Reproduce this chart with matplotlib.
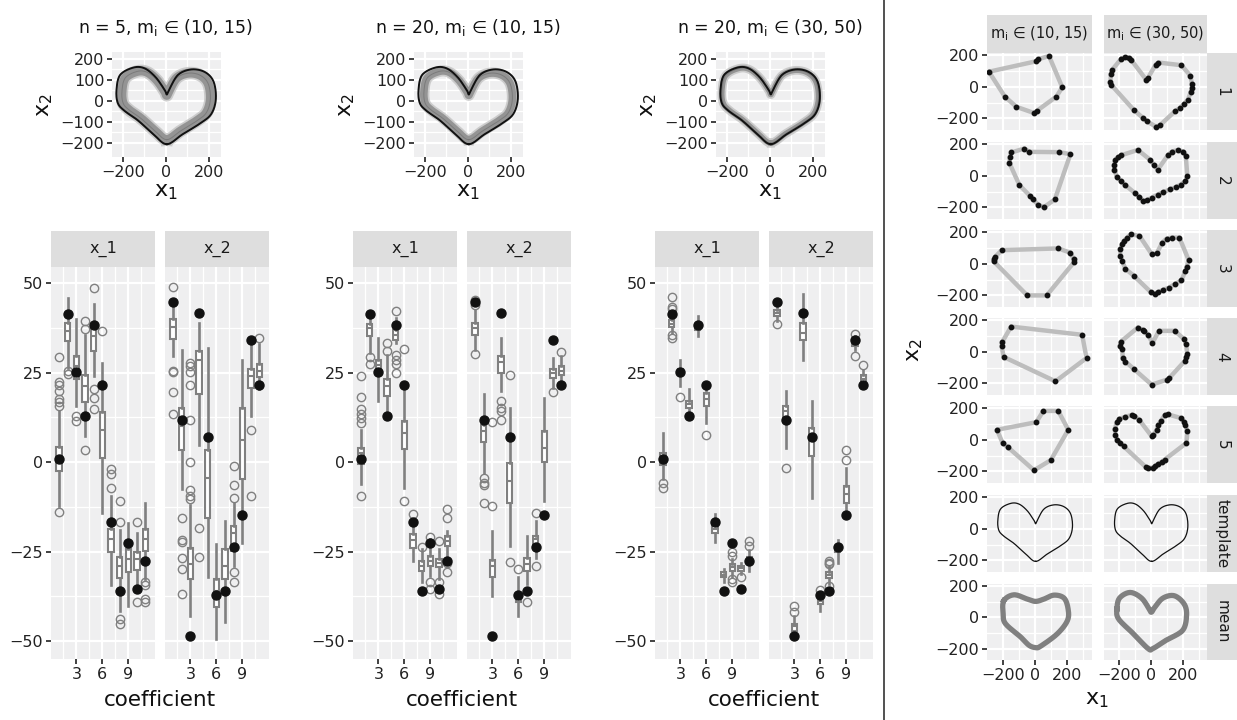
import matplotlib.pyplot as plt
import numpy as np
from matplotlib.lines import Line2D

plt.rcParams['font.family'] = ['DejaVu Sans']
plt.rcParams['mathtext.fontset'] = 'dejavusans'

W, H = 1237, 720

# ---- data ----
coef = list(range(1, 12))
true_x1 = [0.9, 41.3, 25.1, 13.0, 38.4, 21.4, -16.7, -36.0, -22.7, -35.5, -27.6]
true_x2 = [44.6, 11.7, -48.7, 41.6, 7.0, -37.2, -36.1, -23.6, -14.9, 34.2, 21.6]

# boxplot summaries per coefficient: (whisker low, q1, median, q3, whisker high)
box_a_x1 = [(-12.3, -2.5, 1.5, 4.3, 14.2), (26.3, 33.7, 36.5, 38.8, 45.8), (15.6, 23.2, 26.8, 29.7, 40.0),
            (7.2, 16.7, 21.2, 24.4, 35.5), (24.0, 30.9, 35.1, 38.1, 44.2), (-14.1, 1.2, 9.1, 13.9, 27.7),
            (-34.4, -25.1, -21.6, -18.6, -9.5), (-41.5, -32.5, -29.0, -26.4, -19.0), (-40.1, -30.8, -27.1, -24.3, -16.9),
            (-36.4, -30.2, -27.1, -25.1, -19.7), (-32.7, -24.8, -21.6, -18.8, -11.3)]
out_a_x1 = [[29.4, 22.3, 21.4, 19.8, 17.5, 16.9, 15.6, -13.9], [25.5, 24.7], [12.8, 11.4], [39.3, 37.2, 3.5],
            [48.6, 20.4, 17.9, 14.9], [36.5], [-2.0, -3.4, -7.2], [-10.9, -16.7, -43.7, -45.1], [],
            [-16.7, -39.0], [-33.4, -34.4, -38.3, -39.2]]
box_a_x2 = [(29.5, 34.5, 37.7, 40.0, 44.9), (-7.6, 3.3, 10.0, 15.1, 31.4), (-42.9, -32.7, -28.5, -24.1, -12.0),
            (4.9, 18.9, 28.6, 31.1, 38.8), (-32.2, -15.7, -4.4, 3.5, 31.9), (-49.4, -40.6, -36.0, -32.7, -22.9),
            (-44.6, -32.7, -29.0, -24.3, -16.4), (-29.0, -24.8, -19.7, -17.8, -11.3), (-22.5, -4.6, 6.3, 15.1, 28.6),
            (13.0, 20.7, 24.0, 26.0, 34.7), (20.3, 23.8, 25.4, 27.5, 33.0)]
out_a_x2 = [[48.8, 25.5, 25.1, 19.6, 13.3], [-15.5, -21.7, -22.3, -26.7, -29.9, -36.9],
            [27.7, 26.8, 25.1, 21.5, 11.9, 0.0, -7.8, -9.5, -10.4], [-18.3, -26.4], [], [], [],
            [-1.1, -6.5, -10.0, -30.8, -33.4], [], [9.1, -9.5], [34.8]]

box_b_x1 = [(-6.2, -0.4, 2.6, 4.0, 9.1), (30.5, 35.1, 37.4, 38.6, 41.6), (17.0, 25.4, 27.2, 28.6, 34.7),
            (13.3, 18.4, 21.2, 23.2, 30.0), (33.3, 34.2, 35.6, 37.0, 40.2), (-7.2, 3.7, 8.2, 11.6, 21.2),
            (-27.6, -23.9, -21.7, -20.2, -16.0), (-33.6, -30.4, -29.0, -27.6, -24.3), (-31.8, -29.0, -27.6, -26.2, -21.5),
            (-32.7, -29.4, -28.1, -27.1, -24.3), (-26.2, -23.4, -22.0, -20.6, -19.2)]
out_b_x1 = [[24.0, 18.1, 14.9, 13.5, 12.4, 10.8, -9.6], [29.4, 27.5], [], [33.3, 30.9], [42.3, 30.0, 28.6, 27.5, 24.9],
            [31.6, -10.9], [-14.4], [-23.6], [-20.9, -33.4, -35.5], [-22.1, -33.4, -36.9], [-13.0, -15.5, -28.1, -30.8]]
box_b_x2 = [(31.4, 35.6, 37.4, 38.8, 42.5), (-3.0, 5.6, 8.6, 10.5, 18.9), (-37.5, -32.2, -29.0, -27.3, -19.2),
            (19.8, 24.9, 28.1, 29.5, 34.7), (-23.4, -11.3, -5.3, -0.2, 15.1), (-42.9, -39.2, -38.3, -37.3, -32.2),
            (-34.1, -30.4, -28.5, -26.7, -20.6), (-26.9, -22.9, -21.6, -20.6, -16.4), (-10.9, 0.0, 4.0, 8.6, 17.9),
            (20.7, 23.5, 24.9, 26.0, 29.1), (21.6, 24.2, 25.4, 26.8, 29.5)]
out_b_x2 = [[45.3, 43.9, 30.3], [-4.4, -5.8, -6.5, -11.3], [11.1, -12.4], [17.0, 15.1, 14.4, 11.7], [24.4, -27.9],
            [-29.9], [-39.2], [-14.1, -29.0], [], [19.5], [30.7]]

box_c_x1 = [(-4.8, -0.7, 0.9, 2.6, 8.2), (36.0, 37.7, 38.6, 39.8, 41.2), (21.2, 24.7, 25.4, 26.0, 28.6),
            (13.7, 15.1, 16.1, 17.0, 20.4), (35.1, 37.0, 37.7, 38.1, 40.7), (10.8, 15.8, 17.6, 19.3, 21.6),
            (-22.3, -19.7, -18.6, -16.9, -14.6), (-33.6, -32.2, -31.6, -30.8, -29.9), (-32.0, -30.4, -29.4, -28.5, -27.0),
            (-31.3, -30.4, -29.7, -29.0, -28.1), (-30.4, -27.9, -27.1, -26.4, -24.5)]
out_c_x1 = [[-5.8, -7.2], [46.1, 43.3, 42.7, 35.6, 34.7], [18.1], [], [], [7.7], [], [],
            [-25.1, -26.2, -32.6, -33.4], [-32.2], [-22.0, -23.3]]
box_c_x2 = [(39.3, 40.7, 41.6, 42.5, 44.9), (4.0, 11.9, 14.2, 15.6, 19.8), (-48.0, -47.1, -45.9, -45.2, -42.9),
            (28.6, 34.0, 36.0, 38.8, 47.0), (-9.9, 1.7, 6.3, 9.6, 17.0), (-41.5, -39.7, -38.7, -37.8, -36.9),
            (-34.1, -32.5, -31.6, -30.8, -29.0), (-28.1, -25.1, -24.3, -23.9, -21.7), (-13.2, -11.3, -9.0, -6.7, -1.6),
            (31.4, 32.5, 33.3, 34.0, 35.1), (20.7, 22.1, 23.2, 24.4, 25.8)]
out_c_x2 = [[38.6], [-1.6], [-40.1, -42.0], [], [], [-35.7], [-27.6, -28.1, -28.5, -34.7], [], [3.3, 0.7],
            [35.8, 29.5], [27.2]]

# heart template outline
template_x1 = [4, 77, 159, 211, 232, 221, 180, 118, 56, 14, 4, -6, -48, -99, -151, -213, -230, -224, -193, -130, -58]
template_x2 = [-206, -159, -107, -62, 10, 93, 138, 150, 124, 52, 31, 52, 113, 155, 159, 124, 52, -10, -47, -93, -159]

# mean shapes
mean_m10_x1 = [-193, -130, -48, 4, 56, 118, 180, 205, 201, 139, 35, 4, -37, -89, -182, -197]
mean_m10_x2 = [105, 143, 116, 101, 116, 141, 122, 53, -21, -105, -185, -194, -179, -126, -42, 21]
mean_m30_x1 = [-215, -199, -132, -60, -12, 2, 23, 75, 147, 209, 224, 199, 95, 12, -19, -112, -205]
mean_m30_x2 = [53, 122, 158, 122, 53, 32, 63, 122, 137, 84, 11, -84, -147, -200, -200, -105, -11]

# observed curves (rows 1-5), m in (10, 15)
obs_m10_x1 = [[-285, 8, 21, 87, 169, 133, 10, -6, -115, -187],
              [-146, -65, -35, 150, 219, 123, 56, 19, -12, -33, -96, -158, -156],
              [-206, 144, 219, 240, 244, 73, -48, -256, -254, -250],
              [-148, 292, 319, 127, -194, -206, -204],
              [-235, 8, 52, 144, 206, 98, -6, -169, -200]]
obs_m10_x2 = [[94, 160, 173, 193, -4, -62, -154, -166, -127, -62],
              [146, 171, 150, 148, 135, -150, -198, -183, -150, -125, -60, 79, 116],
              [85, 96, 69, 29, 12, -200, -200, 15, 27, 40],
              [158, 106, -40, -187, -33, 33, 58],
              [62, 110, 181, 181, 62, -129, -193, -46, -23]]
# observed curves (rows 1-5), m in (30, 50)
obs_m30_x1 = [[-187, -167, -142, -125, -31, -21, 29, 46, 192, 248, 258, 258, 250, 233, 208, 181, 150, 56, 31, -27, -52,
               -110, -252, -256, -254, -246],
              [-187, -83, -6, 19, 42, 108, 133, 171, 202, 219, 229, 217, 187, 160, 119, 77, 42, 4, -27, -48, -75, -104,
               -167, -187, -215, -231, -233, -225, -208],
              [-127, -73, 4, 35, 71, 98, 133, 179, 237, 225, 217, 192, 154, 112, 77, 46, 25, -2, -110, -162, -183, -194,
               -194, -183, -169, -152],
              [-83, -54, -42, -17, 8, 50, 150, 208, 221, 229, 223, 212, 115, 98, 4, -110, -162, -179, -181, -198, -192],
              [-200, -162, -121, -110, -75, 4, 15, 35, 46, 62, 87, 104, 192, 206, 217, 229, 223, 87, 67, 46, 25, 15, -21,
               -33, -173, -194, -215, -225, -229, -215]]
obs_m30_x2 = [[177, 185, 183, 168, 44, 52, 139, 152, 135, 69, 17, -10, -35, -81, -108, -135, -156, -243, -252, -218, -196,
               -146, 12, 31, 79, 106],
              [129, 162, 100, 67, 37, 131, 152, 162, 152, 125, -4, -35, -56, -71, -87, -104, -119, -139, -156, -160,
               -133, -108, -56, -35, -10, 37, 69, 100, 116],
              [185, 175, 60, 64, 133, 158, 164, 164, 23, -19, -44, -106, -127, -152, -164, -179, -189, -179, -75, -33,
               19, 50, 92, 123, 144, 164],
              [152, 137, 131, 104, 54, 131, 131, 79, 48, -15, -35, -60, -166, -177, -208, -108, -62, -42, 17, 33, 62],
              [131, 144, 156, 152, 125, 21, 27, 62, 94, 119, 156, 160, 135, 114, 94, 52, -21, -125, -139, -152, -166,
               -177, -177, -173, -42, -21, 0, 31, 67, 110]]

titles = ['n = 5, m$_\\mathregular{i}$ \u2208 (10, 15)', 'n = 20, m$_\\mathregular{i}$ \u2208 (10, 15)',
          'n = 20, m$_\\mathregular{i}$ \u2208 (30, 50)']
col_labels = ['m$_\\mathregular{i}$ \u2208 (10, 15)', 'm$_\\mathregular{i}$ \u2208 (30, 50)']
row_labels = ['1', '2', '3', '4', '5', 'template', 'mean']

GRAY = '#808080'
PANEL = '#EFEFF0'
STRIP = '#DEDEDE'


def pos(x0, y0, x1, y1):
    return [x0 / W, 1 - y1 / H, (x1 - x0) / W, (y1 - y0) / H]


def smooth_closed(x, y, k=12):
    p = np.column_stack([x, y]).astype(float)
    n = len(p)
    t = np.linspace(0, 1, k, endpoint=False)[:, None]
    segs = []
    for i in range(n):
        p0, p1, p2, p3 = p[i - 1], p[i], p[(i + 1) % n], p[(i + 2) % n]
        segs.append(0.5 * (2 * p1 + (-p0 + p2) * t + (2 * p0 - 5 * p1 + 4 * p2 - p3) * t ** 2
                           + (-p0 + 3 * p1 - 3 * p2 + p3) * t ** 3))
    s = np.vstack(segs + [p[:1]])
    return s[:, 0], s[:, 1]


def gg(ax, xt, yt, xm, ym, xl=True, yl=True):
    ax.set_facecolor(PANEL)
    for s in ax.spines.values():
        s.set_visible(False)
    ax.set_xticks(xt)
    ax.set_yticks(yt)
    ax.set_xticks(xm, minor=True)
    ax.set_yticks(ym, minor=True)
    ax.grid(which='major', color='white', lw=1.6)
    ax.grid(which='minor', color='white', lw=0.9)
    ax.set_axisbelow(True)
    ax.tick_params(which='major', length=3.5, width=1.3, color='#333333', labelsize=11.5,
                   labelcolor='#222222', pad=2)
    ax.tick_params(which='minor', length=0)
    if not xl:
        ax.set_xticklabels([])
        ax.tick_params(axis='x', which='major', length=0)
    if not yl:
        ax.set_yticklabels([])
        ax.tick_params(axis='y', which='major', length=0)


def strip(rect, text, rot=0, size=11):
    a = fig.add_axes(rect)
    a.set_facecolor(STRIP)
    a.set_xticks([])
    a.set_yticks([])
    for s in a.spines.values():
        s.set_visible(False)
    a.text(0.5, 0.5, text, rotation=rot, ha='center', va='center', fontsize=size, color='#1a1a1a',
           transform=a.transAxes)


fig = plt.figure(figsize=(W / 100, H / 100), dpi=100)

tx, ty = smooth_closed(template_x1, template_x2)
band_scale = [0.89, 0.89, 0.97]
band_width = [6.5, 5.5, 3.8]

boxes = [(box_a_x1, out_a_x1, box_a_x2, out_a_x2),
         (box_b_x1, out_b_x1, box_b_x2, out_b_x2),
         (box_c_x1, out_c_x1, box_c_x2, out_c_x2)]

for j in range(3):
    off = 302 * j
    # top heart
    ax = fig.add_axes(pos(112 + off, 52, 221 + off, 157))
    gg(ax, [-200, 0, 200], [-200, -100, 0, 100, 200], [-100, 100], [-150, -50, 50, 150])
    sc = band_scale[j]
    bx, by = tx * sc, ty * sc - 10 * (1 - sc)
    ax.plot(bx, by, color='#bcbcbc', lw=band_width[j] + 2.5, alpha=0.7, solid_joinstyle='round')
    ax.plot(bx, by, color='#8e8e8e', lw=band_width[j], alpha=0.9, solid_joinstyle='round')
    ax.plot(bx, by, color='#6a6a6a', lw=0.7, alpha=0.6)
    ax.plot(tx, ty, color='#111111', lw=1.4)
    ax.set_xlim(-251, 256)
    ax.set_ylim(-267, 233)
    fig.text((166 + off) / W, 1 - 28 / H, titles[j], ha='center', va='center', fontsize=12.5, color='#111111')
    fig.text((45 + off) / W, 1 - 105 / H, '$\\mathregular{x_2}$', ha='center', va='center', fontsize=16,
             rotation=90, color='#111111')
    fig.text((166 + off) / W, 1 - 192 / H, '$\\mathregular{x_1}$', ha='center', va='center', fontsize=16,
             color='#111111')

    # boxplots
    for k in range(2):
        b, o = boxes[j][2 * k], boxes[j][2 * k + 1]
        tv = [true_x1, true_x2][k]
        x0 = 51 + off + 114 * k
        ax = fig.add_axes(pos(x0, 267, x0 + 104, 659))
        gg(ax, [3, 6, 9], [-50, -25, 0, 25, 50], [1.5, 4.5, 7.5, 10.5], [-37.5, -12.5, 12.5, 37.5],
           yl=(k == 0))
        stats = [dict(whislo=s[0], q1=s[1], med=s[2], q3=s[3], whishi=s[4], fliers=f) for s, f in zip(b, o)]
        ax.bxp(stats, positions=coef, widths=0.62, showcaps=False, patch_artist=True, manage_ticks=False,
               boxprops=dict(facecolor='white', edgecolor=GRAY, lw=1.5),
               whiskerprops=dict(color=GRAY, lw=1.9),
               medianprops=dict(color=GRAY, lw=1.5),
               flierprops=dict(marker='o', markerfacecolor='none', markeredgecolor=GRAY, markersize=6,
                               markeredgewidth=1.0))
        ax.plot(coef, tv, 'o', color='#111111', ms=6.5, zorder=5)
        ax.set_xlim(0.07, 12.1)
        ax.set_ylim(-55, 54.5)
        strip(pos(x0, 231, x0 + 104, 267), ['x_1', 'x_2'][k], size=11.5)
    fig.text((160 + off) / W, 1 - 700 / H, 'coefficient', ha='center', va='center', fontsize=15.5,
             color='#111111')

# divider
fig.add_artist(Line2D([884 / W, 884 / W], [0, 1], color='#333333', lw=1.2))

# right panel grid
rows = [(53, 130), (142, 219), (230, 307), (318, 395), (406, 483), (495, 572), (584, 660)]
cols = [(987, 1092), (1104, 1207)]
obs_x = [obs_m10_x1, obs_m30_x1]
obs_y = [obs_m10_x2, obs_m30_x2]
means = [(mean_m10_x1, mean_m10_x2), (mean_m30_x1, mean_m30_x2)]
for c, (cx0, cx1) in enumerate(cols):
    strip(pos(cx0, 15, cx1, 53), col_labels[c], size=10.5)
    for r, (ry0, ry1) in enumerate(rows):
        ax = fig.add_axes(pos(cx0, ry0, cx1, ry1))
        gg(ax, [-200, 0, 200], [-200, 0, 200], [-100, 100, 300], [-100, 100],
           xl=(r == 6), yl=(c == 0))
        if r < 5:
            xs = list(obs_x[c][r]) + [obs_x[c][r][0]]
            ys = list(obs_y[c][r]) + [obs_y[c][r][0]]
            ax.plot(xs, ys, color='#bdbdbd', lw=3.2, solid_capstyle='round', solid_joinstyle='round')
            ax.plot(obs_x[c][r], obs_y[c][r], 'o', color='#111111', ms=3.2)
        elif r == 5:
            ax.plot(tx, ty, color='#111111', lw=0.9)
        else:
            mx, my = smooth_closed(*means[c])
            ax.plot(mx, my, color='#808080', lw=3.8, solid_joinstyle='round')
        ax.set_xlim(-297, 353)
        ax.set_ylim(-273, 212)
        if c == 1:
            strip(pos(1207, ry0, 1237, ry1), row_labels[r], rot=-90, size=11)

fig.text(1097 / W, 1 - 700 / H, '$\\mathregular{x_1}$', ha='center', va='center', fontsize=16, color='#111111')
fig.text(915 / W, 1 - 350 / H, '$\\mathregular{x_2}$', ha='center', va='center', fontsize=16, rotation=90,
         color='#111111')

fig.savefig('out.png', dpi=100)
